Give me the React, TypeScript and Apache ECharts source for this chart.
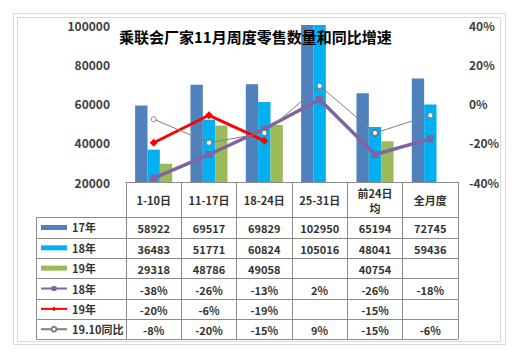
import React, { useEffect, useRef } from 'react';
import * as echarts from 'echarts';

const titleText = '乘联会厂家11月周度零售数量和同比增速';
const categories = ['1-10日', '11-17日', '18-24日', '25-31日', '前24日\n均', '全月度'];
const sales17 = [58922, 69517, 69829, 102950, 65194, 72745];
const sales18 = [36483, 51771, 60824, 105016, 48041, 59436];
const sales19 = [29318, 48786, 49058, null, 40754, null];
const growth18 = [-38, -26, -13, 2, -26, -18];
const growth19 = [-20, -6, -19, null, -15, null];
const growthVsOct = [-8, -20, -15, 9, -15, -6];
const seriesNames = ['17年', '18年', '19年', '18年增速', '19年增速', '19.10同比'];
const rowLabels = ['17年', '18年', '19年', '18年', '19年', '19.10同比'];
const leftAxis = { min: 20000, max: 100000, interval: 20000 };
const rightAxis = { min: -40, max: 40, interval: 20 };

const FONT = "'Noto Sans CJK SC', 'Noto Sans', sans-serif";
const GRID_LEFT = 126;
const GRID_RIGHT_X = 458;
const AXIS_Y = 182;
const ROW_TOP = 217.3;
const ROW_H = 20.35;
const TABLE_LEFT = 36.5;
const LINE_COLOR = '#8C8C8C';
const TEXT_COLOR = '#333333';

const fmtNum = (v: number | null) => (v == null ? '' : String(v));
const fmtPct = (v: number | null) => (v == null ? '' : v + '%');

const tableRows: string[][] = [
  sales17.map(fmtNum),
  sales18.map(fmtNum),
  sales19.map(fmtNum),
  growth18.map(fmtPct),
  growth19.map(fmtPct),
  growthVsOct.map(fmtPct),
];

export default function App() {
  const ref = useRef<HTMLDivElement>(null);
  useEffect(() => {
    if (!ref.current) return;
    const chart = echarts.init(ref.current, undefined, { renderer: 'svg' });

    const rowAxes = tableRows.map((row, k) => ({
      type: 'category',
      data: categories,
      gridIndex: 0,
      position: 'bottom',
      offset: ROW_TOP + ROW_H * (k + 0.5) + 1 - AXIS_Y,
      axisLine: { show: false, onZero: false },
      axisTick: { show: false },
      splitLine: { show: false },
      axisLabel: {
        interval: 0,
        margin: 0,
        verticalAlign: 'middle',
        fontSize: 11,
        fontWeight: 'bold',
        color: TEXT_COLOR,
        fontFamily: FONT,
        formatter: (_v: string, i: number) => row[i],
      },
    }));

    const graphic: any[] = [
      {
        type: 'rect',
        shape: { x: 13.5, y: 13.5, width: 492, height: 331 },
        style: { fill: 'none', stroke: '#D9D9D9', lineWidth: 1 },
        silent: true,
      },
      {
        type: 'rect',
        shape: { x: 17.5, y: 17.5, width: 483, height: 324 },
        style: { fill: 'none', stroke: '#D9D9D9', lineWidth: 1 },
        silent: true,
      },
    ];
    for (let k = 0; k <= tableRows.length; k++) {
      const y = Math.round(ROW_TOP + ROW_H * k) + 0.5;
      graphic.push({
        type: 'line',
        shape: { x1: TABLE_LEFT, y1: y, x2: GRID_RIGHT_X, y2: y },
        style: { stroke: LINE_COLOR, lineWidth: 1 },
        silent: true,
      });
    }
    graphic.push({
      type: 'line',
      shape: {
        x1: TABLE_LEFT,
        y1: Math.round(ROW_TOP) + 0.5,
        x2: TABLE_LEFT,
        y2: Math.round(ROW_TOP + ROW_H * tableRows.length) + 0.5,
      },
      style: { stroke: LINE_COLOR, lineWidth: 1 },
      silent: true,
    });

    const barIcon = 'path://M0,0H26V5H0Z';

    const option: any = {
      animation: false,
      backgroundColor: '#ffffff',
      textStyle: { fontFamily: FONT },
      title: {
        text: titleText,
        left: 119,
        top: 29,
        padding: 0,
        textStyle: { fontSize: 15, fontWeight: 'bold', color: '#000', fontFamily: FONT },
      },
      grid: { left: GRID_LEFT, right: 524 - GRID_RIGHT_X, top: 25, bottom: 352 - AXIS_Y },
      legend: {
        orient: 'vertical',
        left: 40,
        top: ROW_TOP,
        padding: 0,
        itemGap: 0,
        itemWidth: 26,
        itemHeight: 6,
        selectedMode: false,
        data: seriesNames.map((n, i) => (i < 3 ? { name: n, icon: barIcon } : { name: n })),
        formatter: (name: string) => rowLabels[seriesNames.indexOf(name)],
        textStyle: { fontSize: 11, fontWeight: 'bold', color: TEXT_COLOR, lineHeight: ROW_H, fontFamily: FONT },
      },
      xAxis: [
        {
          type: 'category',
          data: categories,
          gridIndex: 0,
          position: 'bottom',
          axisLine: { show: true, onZero: false, lineStyle: { color: LINE_COLOR, width: 1 } },
          axisTick: {
            show: true,
            alignWithLabel: false,
            length: Math.round(ROW_TOP + ROW_H * tableRows.length) - AXIS_Y,
            lineStyle: { color: LINE_COLOR, width: 1 },
          },
          splitLine: { show: false },
          axisLabel: {
            interval: 0,
            margin: 18,
            verticalAlign: 'middle',
            lineHeight: 15,
            fontSize: 11,
            fontWeight: 'bold',
            color: TEXT_COLOR,
            fontFamily: FONT,
          },
        },
        ...rowAxes,
      ],
      yAxis: [
        {
          type: 'value',
          position: 'left',
          min: leftAxis.min,
          max: leftAxis.max,
          interval: leftAxis.interval,
          axisLine: { show: false },
          axisTick: { show: false },
          splitLine: { show: false },
          axisLabel: {
            margin: 16,
            fontSize: 12,
            fontWeight: 'bold',
            color: '#404040',
            fontFamily: FONT,
            formatter: (v: number) => String(v),
          },
        },
        {
          type: 'value',
          position: 'right',
          min: rightAxis.min,
          max: rightAxis.max,
          interval: rightAxis.interval,
          axisLine: { show: false },
          axisTick: { show: false },
          splitLine: { show: false },
          axisLabel: {
            margin: 11,
            fontSize: 12,
            fontWeight: 'bold',
            color: '#404040',
            fontFamily: FONT,
            formatter: (v: number) => v + '%',
          },
        },
      ],
      series: [
        {
          type: 'bar',
          name: seriesNames[0],
          data: sales17,
          xAxisIndex: 0,
          yAxisIndex: 0,
          barGap: '0%',
          barCategoryGap: '33%',
          itemStyle: { color: '#4F81BD' },
        },
        {
          type: 'bar',
          name: seriesNames[1],
          data: sales18,
          xAxisIndex: 0,
          yAxisIndex: 0,
          itemStyle: { color: '#00B0F0' },
        },
        {
          type: 'bar',
          name: seriesNames[2],
          data: sales19,
          xAxisIndex: 0,
          yAxisIndex: 0,
          itemStyle: { color: '#9BBB59' },
        },
        {
          type: 'line',
          name: seriesNames[3],
          data: growth18,
          xAxisIndex: 0,
          yAxisIndex: 1,
          symbol: 'rect',
          symbolSize: 7,
          itemStyle: { color: '#8064A2' },
          lineStyle: { color: '#8064A2', width: 3.5 },
        },
        {
          type: 'line',
          name: seriesNames[4],
          data: growth19,
          xAxisIndex: 0,
          yAxisIndex: 1,
          symbol: 'diamond',
          symbolSize: 8,
          connectNulls: false,
          itemStyle: { color: '#FF0000' },
          lineStyle: { color: '#FF0000', width: 3 },
        },
        {
          type: 'line',
          name: seriesNames[5],
          data: growthVsOct,
          xAxisIndex: 0,
          yAxisIndex: 1,
          symbol: 'circle',
          symbolSize: 5,
          itemStyle: { color: '#ffffff', borderColor: '#7F7F7F', borderWidth: 1 },
          lineStyle: { color: '#7F7F7F', width: 1 },
        },
      ],
      graphic,
    };

    chart.setOption(option);
    return () => chart.dispose();
  }, []);

  return (
    <div
      ref={ref}
      style={{ position: 'absolute', left: 0, top: 0, width: 524, height: 352, background: '#fff' }}
    />
  );
}
